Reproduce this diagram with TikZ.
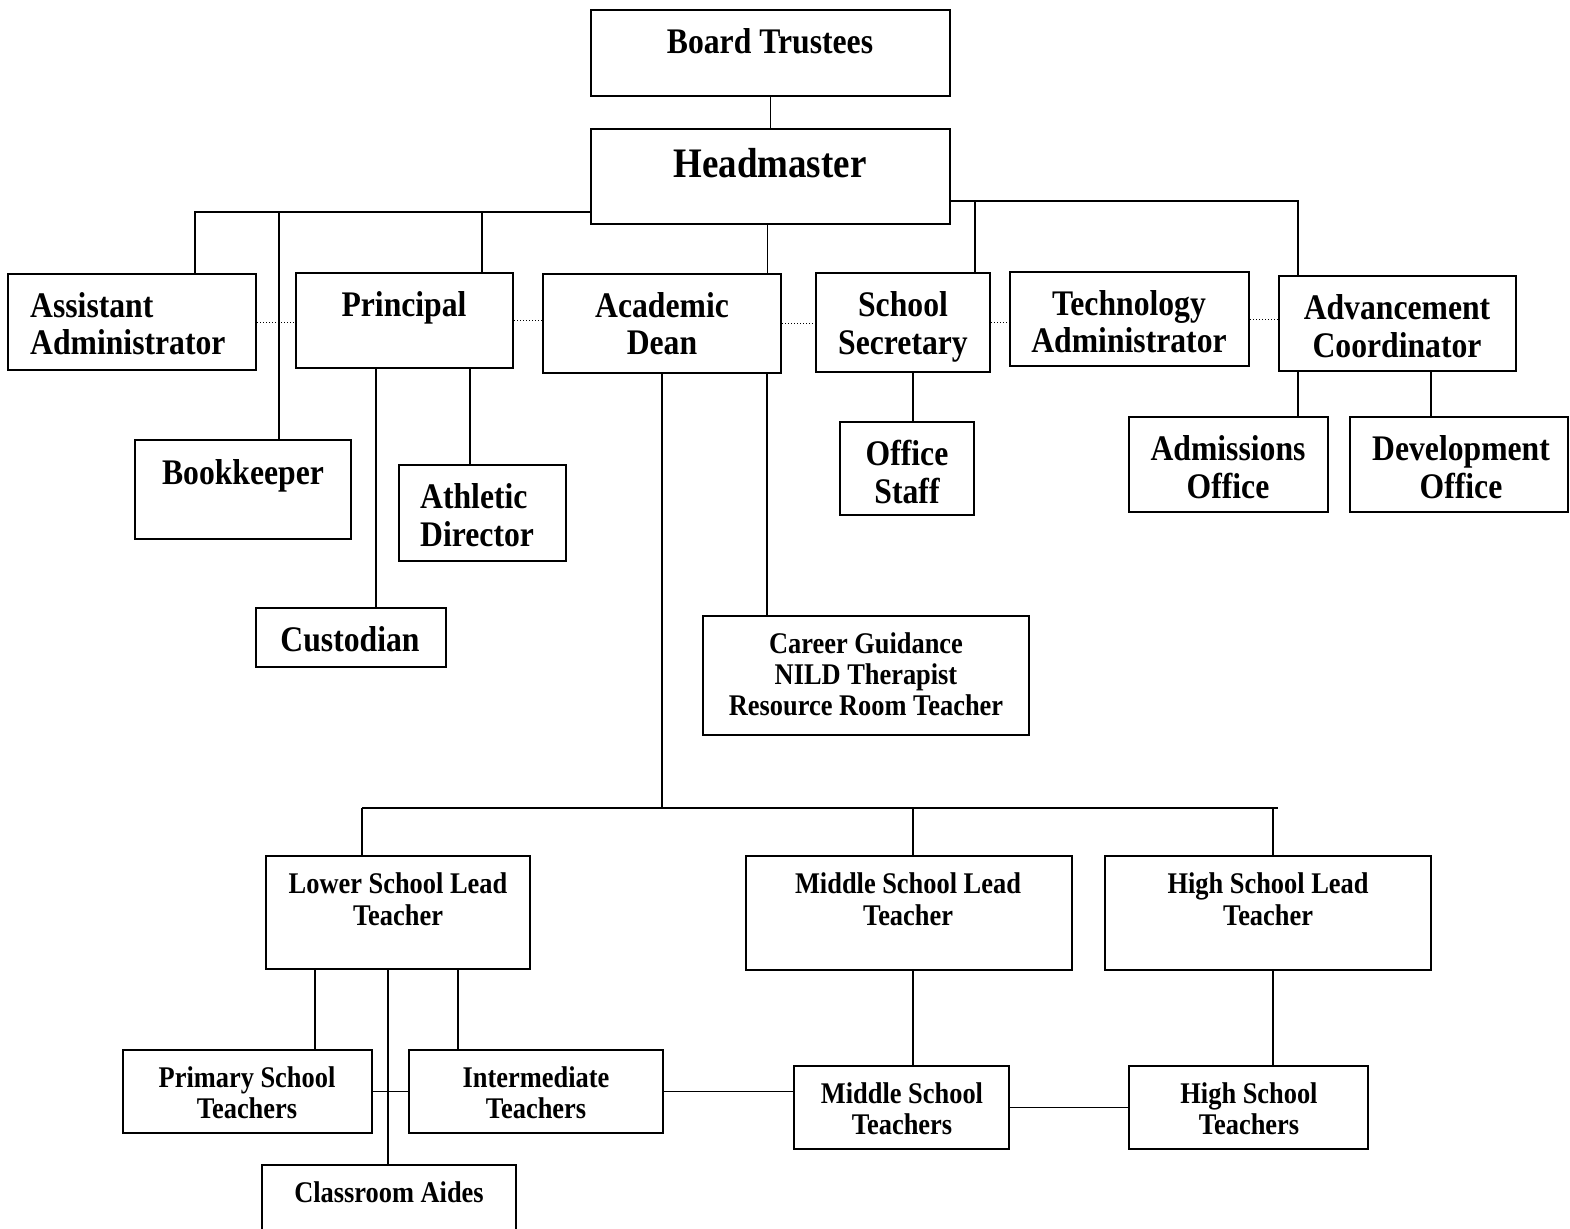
\documentclass[tikz,border=0pt]{standalone}
\usepackage{fontspec}
\setmainfont{Liberation Serif}[FakeStretch=0.88]
\usepackage{tikz}
\usetikzlibrary{calc}

\begin{document}
\begin{tikzpicture}[x=1pt,y=-1pt,
  box/.style={draw,line width=2.2pt,inner sep=0pt},
  big/.style={font=\fontsize{36}{37.5}\selectfont\bfseries,align=center,inner sep=0pt},
  small/.style={font=\fontsize{30}{31}\selectfont\bfseries,align=center,inner sep=0pt},
  link/.style={line width=1.8pt},
  dotline/.style={line width=1pt,dotted}]

\useasboundingbox (0,0) rectangle (1570,1228);

    % top
    \node[box,minimum width=359pt,minimum height=86pt] (board) at (770.5,53) {};
    \node[big] (boardt) at (770,41) {Board Trustees};
    \node[box,minimum width=359pt,minimum height=95pt] (head) at (770.5,176.5) {};
    \node[big,font=\fontsize{42}{44}\selectfont\bfseries] (headt) at (770,163) {Headmaster};

    % second row
    \node[box,minimum width=248pt,minimum height=96pt] (asst) at (132,322) {};
    \node[big,align=left,anchor=west] (asstt) at (30,323.5) {Assistant\\Administrator};
    \node[box,minimum width=217pt,minimum height=95pt] (prin) at (404.5,320.5) {};
    \node[big] (print) at (404,308) {Principal};
    \node[box,minimum width=238pt,minimum height=99pt] (dean) at (662,323.5) {};
    \node[big] (deant) at (662,323.5) {Academic\\Dean};
    \node[box,minimum width=174pt,minimum height=99pt] (secr) at (903,322.5) {};
    \node[big] (secrt) at (903,327) {School\\Secretary};
    \node[box,minimum width=239pt,minimum height=94pt] (tech) at (1129.5,319) {};
    \node[big] (techt) at (1129,321.5) {Technology\\Administrator};
    \node[box,minimum width=237pt,minimum height=95pt] (adv) at (1397.5,323.5) {};
    \node[big] (advt) at (1397,326) {Advancement\\Coordinator};

    % third row
    \node[box,minimum width=216pt,minimum height=99pt] (book) at (243,489.5) {};
    \node[big] (bookt) at (243,476) {Bookkeeper};
    \node[box,minimum width=167pt,minimum height=96pt] (ath) at (482.5,513) {};
    \node[big,align=left,anchor=west] (atht) at (420,515) {Athletic\\Director};
    \node[box,minimum width=190pt,minimum height=59pt] (cust) at (351,637.5) {};
    \node[big] (custt) at (350,639) {Custodian};
    \node[box,minimum width=134pt,minimum height=93pt] (office) at (907,468.5) {};
    \node[big] (officet) at (907,472) {Office\\Staff};
    \node[box,minimum width=199pt,minimum height=95pt] (admis) at (1228.5,464.5) {};
    \node[big] (admist) at (1228,467) {Admissions\\Office};
    \node[box,minimum width=218pt,minimum height=95pt] (devel) at (1459,464.5) {};
    \node[big] (develt) at (1461,467) {Development\\Office};
    \node[box,minimum width=326pt,minimum height=119pt] (career) at (866,675.5) {};
    \node[small] (careert) at (866,674) {Career Guidance\\NILD Therapist\\Resource Room Teacher};

    % lead teachers
    \node[box,minimum width=264pt,minimum height=113pt] (lower) at (398,912.5) {};
    \node[small,font=\fontsize{30}{32}\selectfont\bfseries] (lowert) at (398,899) {Lower School Lead\\Teacher};
    \node[box,minimum width=326pt,minimum height=114pt] (middle) at (909,913) {};
    \node[small,font=\fontsize{30}{32}\selectfont\bfseries] (middlet) at (908,899) {Middle School Lead\\Teacher};
    \node[box,minimum width=326pt,minimum height=114pt] (high) at (1268,913) {};
    \node[small,font=\fontsize{30}{32}\selectfont\bfseries] (hight) at (1268,899) {High School Lead\\Teacher};

    % teachers
    \node[box,minimum width=249pt,minimum height=83pt] (prim) at (247.5,1091.5) {};
    \node[small] (primt) at (247,1093) {Primary School\\Teachers};
    \node[box,minimum width=254pt,minimum height=83pt] (inter) at (536,1091.5) {};
    \node[small] (intert) at (536,1093) {Intermediate\\Teachers};
    \node[box,minimum width=254pt,minimum height=75pt] (aides) at (389,1202.5) {};
    \node[small] (aidest) at (389,1192) {Classroom Aides};
    \node[box,minimum width=215pt,minimum height=83pt] (mst) at (901.5,1107.5) {};
    \node[small] (mstt) at (902,1109) {Middle School\\Teachers};
    \node[box,minimum width=239pt,minimum height=83pt] (hst) at (1248.5,1107.5) {};
    \node[small] (hstt) at (1249,1109) {High School\\Teachers};

    \coordinate (lbus) at (195,212);
    \coordinate (bbus) at (279,212);
    \coordinate (pbus) at (482,212);
    \coordinate (rbus) at (1298,201);
    \coordinate (sbus) at (975,201);
    \coordinate (dbus) at (662,808);
    \coordinate (lowbus) at (362,808);
    \coordinate (highbus) at (1278,808);

    \draw[link] (board.south) -- (board.south |- head.north);
    \draw[link] (head.west |- lbus) -- (lbus) -- (lbus |- asst.north);
    \draw[link] (bbus) -- (bbus |- book.north);
    \draw[link] (pbus) -- (pbus |- prin.north);
    \draw[link] ([xshift=-3pt]head.south) -- ([xshift=-3pt]head.south |- dean.north);
    \draw[link] (head.east |- rbus) -- (rbus) -- (rbus |- adv.north);
    \draw[link] (sbus) -- (sbus |- secr.north);

    \draw[dotline] (asst.east) -- (asst.east -| prin.west);
    \draw[dotline] (prin.east) -- (prin.east -| dean.west);
    \draw[dotline] (dean.east) -- (dean.east -| secr.west);
    \draw[dotline] (secr.east) -- (secr.east -| tech.west);
    \draw[dotline] (tech.east) -- (tech.east -| adv.west);

    \draw[link] ([xshift=-28.5pt]prin.south) -- ([xshift=-28.5pt]prin.south |- cust.north);
    \draw[link] ([xshift=65.5pt]prin.south) -- ([xshift=65.5pt]prin.south |- ath.north);
    \draw[link] ([xshift=10pt]secr.south) -- ([xshift=10pt]secr.south |- office.north);
    \draw[link] ([xshift=-99.5pt]adv.south) -- ([xshift=-99.5pt]adv.south |- admis.north);
    \draw[link] ([xshift=33.5pt]adv.south) -- ([xshift=33.5pt]adv.south |- devel.north);
    \draw[link] ([xshift=105pt]dean.south) -- ([xshift=105pt]dean.south |- career.north);

    \draw[link] (dean.south) -- (dbus);
    \draw[link] (lowbus) -- (highbus);
    \draw[link] (lowbus) -- (lowbus |- lower.north);
    \draw[link] ([xshift=4pt]middle.north |- dbus) -- ([xshift=4pt]middle.north);
    \draw[link] ([xshift=5pt]high.north |- dbus) -- ([xshift=5pt]high.north);

    \draw[link] ([xshift=-83pt]lower.south) -- ([xshift=-83pt]lower.south |- prim.north);
    \draw[link] ([xshift=-10pt]lower.south) -- ([xshift=-10pt]lower.south |- aides.north);
    \draw[link] ([xshift=60pt]lower.south) -- ([xshift=60pt]lower.south |- inter.north);
    \draw[link] (prim.east) -- (inter.west);
    \draw[link] (inter.east) -- (inter.east -| mst.west);
    \draw[link] ([xshift=4pt]middle.south) -- ([xshift=4pt]middle.south |- mst.north);
    \draw[link] (mst.east) -- (mst.east -| hst.west);
    \draw[link] ([xshift=5pt]high.south) -- ([xshift=5pt]high.south |- hst.north);

 \end{tikzpicture}
\end{document}
